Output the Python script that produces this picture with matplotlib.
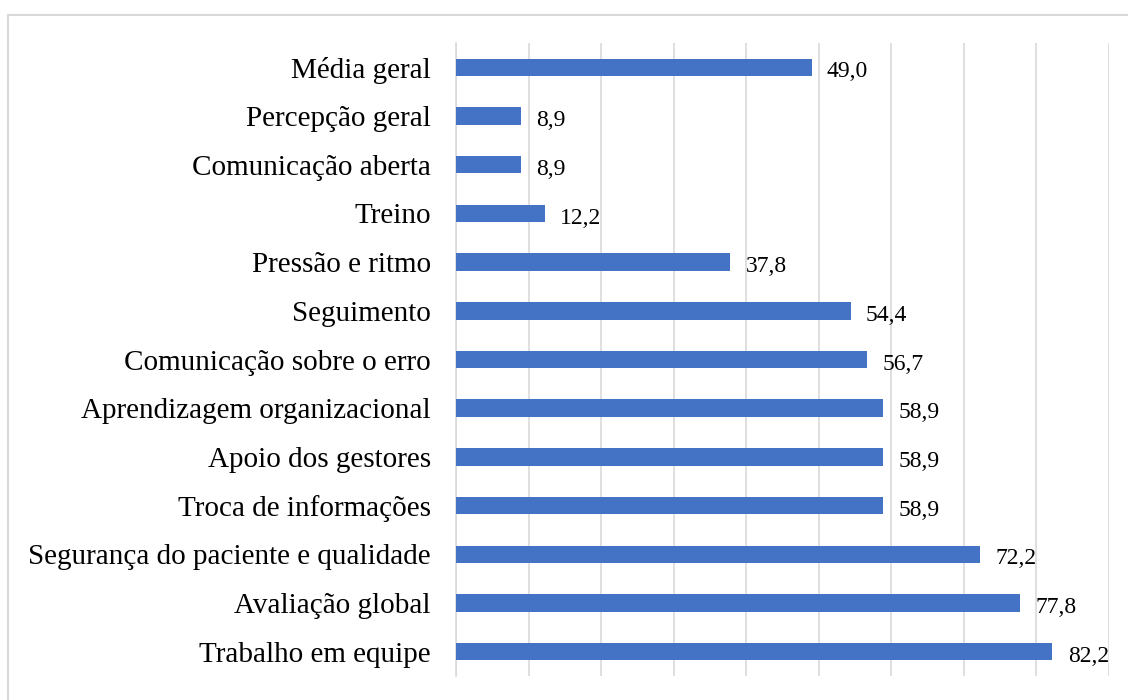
import matplotlib
matplotlib.use("Agg")
import matplotlib.pyplot as plt
from matplotlib.patches import Rectangle

categories = ["Média geral", "Percepção geral", "Comunicação aberta", "Treino",
              "Pressão e ritmo", "Seguimento", "Comunicação sobre o erro",
              "Aprendizagem organizacional", "Apoio dos gestores",
              "Troca de informações", "Segurança do paciente e qualidade",
              "Avaliação global", "Trabalho em equipe"]
values = [49.0, 8.9, 8.9, 12.2, 37.8, 54.4, 56.7, 58.9, 58.9, 58.9, 72.2, 77.8, 82.2]

plt.rcParams['font.family'] = ['Liberation Serif', 'DejaVu Serif']

fig = plt.figure(figsize=(11.28, 7.0), dpi=100)
ax = fig.add_axes([456/1128, 1 - 676/700, (1109 - 456)/1128, (676 - 43)/700])

y = list(range(len(categories)))
ax.barh(y, values, height=0.36, color="#4472C4", zorder=3)
for yi, v in zip(y, values):
    ax.annotate(f"{v:.1f}".replace(".", ","), (v, yi), xytext=(11, -1.5),
                textcoords="offset points", va="center_baseline", ha="left",
                fontsize=17)

ax.set_xlim(0, 90)
ax.set_ylim(len(categories) - 0.5, -0.5)
ax.set_xticks(range(0, 91, 10))
ax.set_xticklabels([])
ax.tick_params(axis="x", length=0)
ax.tick_params(axis="y", length=0, pad=18, labelsize=21)
ax.set_yticks(y)
ax.set_yticklabels(categories)
ax.grid(axis="x", color="#d9d9d9", linewidth=1.2, zorder=0)
for s in ["top", "right", "bottom"]:
    ax.spines[s].set_visible(False)
ax.spines["left"].set_color("#d9d9d9")
ax.spines["left"].set_linewidth(1.2)

fig.patches.append(Rectangle((8/1128, -0.05), 1.2, 1 - 15/700 + 0.05,
                             transform=fig.transFigure, fill=False,
                             edgecolor="#d9d9d9", linewidth=1.5))

fig.savefig("out.png", dpi=100)
